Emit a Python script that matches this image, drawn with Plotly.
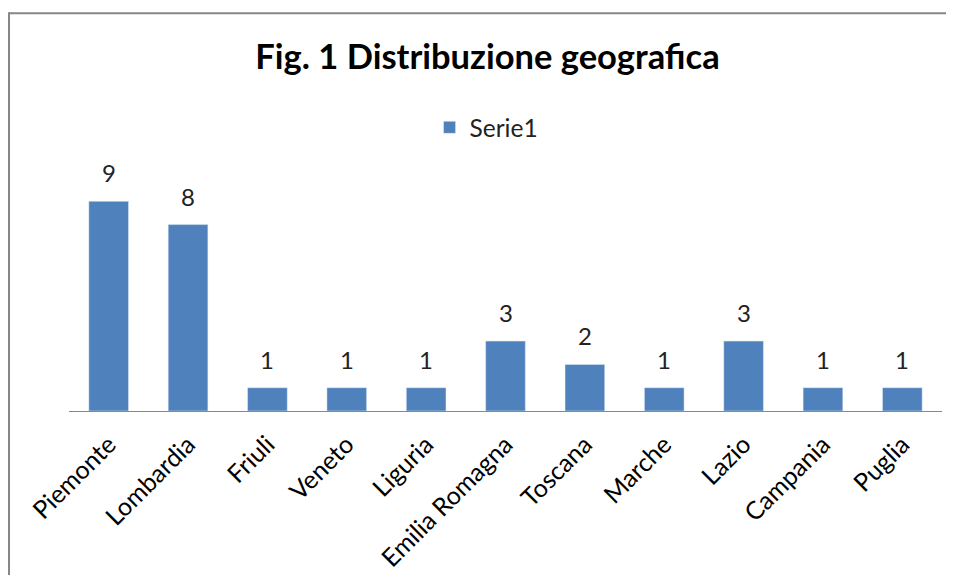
import plotly.graph_objects as go

regions = ["Piemonte", "Lombardia", "Friuli", "Veneto", "Liguria", "Emilia Romagna",
           "Toscana", "Marche", "Lazio", "Campania", "Puglia"]
counts = [9, 8, 1, 1, 1, 3, 2, 1, 3, 1, 1]
series_name = "Serie1"
title_text = "Fig. 1 Distribuzione geografica"

FONT = "Lato"
BAR = "#4F81BD"

fig = go.Figure()
fig.add_trace(go.Bar(x=regions, y=counts, name=series_name, marker_color=BAR,
                     showlegend=True))

for r, c in zip(regions, counts):
    fig.add_annotation(x=r, y=c, text=str(c), showarrow=False, yanchor="bottom",
                       yshift=12, font=dict(family=FONT, size=24, color="#222"))

# outer chart frame (top and left edges visible; the rest lies outside the picture)
fig.add_shape(type="line", xref="paper", yref="paper",
              x0=-0.0687, x1=1.2, y0=1.707, y1=1.707,
              line=dict(color="#868686", width=2))
fig.add_shape(type="line", xref="paper", yref="paper",
              x0=-0.0687, x1=-0.0687, y0=-1.2, y1=1.711,
              line=dict(color="#868686", width=2))

fig.update_layout(
    width=938, height=567,
    margin=dict(l=61, r=4, t=170, b=164, pad=0),
    paper_bgcolor="white", plot_bgcolor="white",
    bargap=0.5,
    title=dict(text=title_text, x=479.5 / 938, xanchor="center", xref="container",
               y=1 - 48.5 / 567, yanchor="middle", yref="container",
               font=dict(family=FONT, size=34.5, color="#000", weight=700)),
    legend=dict(orientation="h", x=0.413, xanchor="left", y=1.217, yanchor="middle",
                font=dict(family=FONT, size=24.5, color="#222"), bgcolor="rgba(0,0,0,0)"),
    xaxis=dict(showline=True, linecolor="#888", linewidth=1, ticks="",
               tickangle=-45, tickfont=dict(family=FONT, size=25, color="#000"),
               ticklabelstandoff=8,
               showgrid=False, fixedrange=True),
    yaxis=dict(range=[0, 10], visible=False, showgrid=False, fixedrange=True),
)

fig.write_html("out.html", config={"displayModeBar": False})
